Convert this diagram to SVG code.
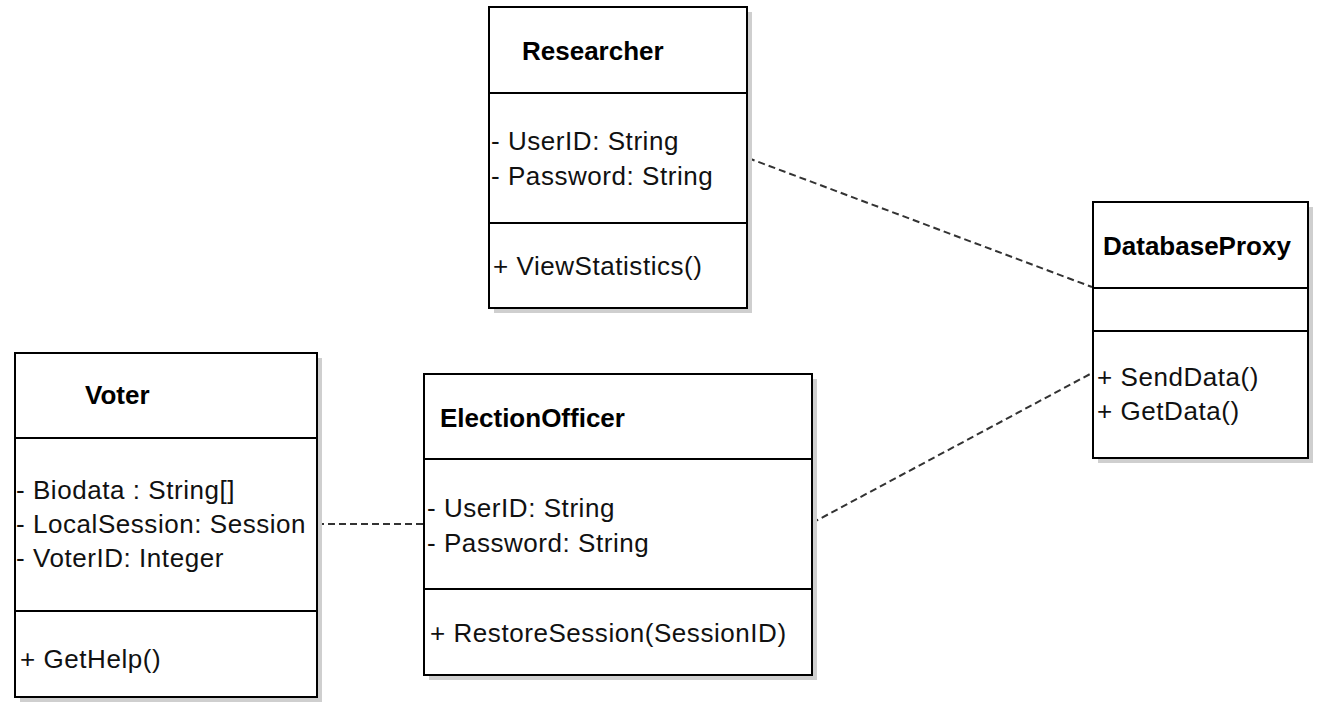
<svg xmlns="http://www.w3.org/2000/svg" width="1320" height="703" viewBox="0 0 1320 703">
<style>
.box{fill:#ffffff;stroke:#000000;stroke-width:2}
.shadow{fill:#cfcfcf;stroke:none}
.div{stroke:#000000;stroke-width:2;fill:none}
.title{font-family:"Liberation Sans",Arial,sans-serif;font-weight:bold;font-size:26px;fill:#000000}
.txt{font-family:"Liberation Sans",Arial,sans-serif;font-size:26px;letter-spacing:0.55px;fill:#111111}
.conn{stroke:#333333;stroke-width:2;stroke-dasharray:7 4;fill:none}
</style>
<rect width="1320" height="703" fill="#ffffff"/>
<g id="connectors">
<line class="conn" x1="748" y1="158" x2="1092" y2="287"/>
<line class="conn" x1="317" y1="524" x2="424" y2="524"/>
<line class="conn" x1="812" y1="523" x2="1092" y2="373"/>
</g>
<g id="researcher">
<rect class="shadow" x="494" y="12" width="258" height="301"/>
<rect class="box" x="489" y="7" width="258" height="301"/>
<line class="div" x1="489" y1="93" x2="747" y2="93"/>
<line class="div" x1="489" y1="223" x2="747" y2="223"/>
<text class="title" x="522" y="60">Researcher</text>
<text class="txt" x="491" y="150">- UserID: String</text>
<text class="txt" x="491" y="185">- Password: String</text>
<text class="txt" x="493" y="275">+ ViewStatistics()</text>
</g>
<g id="databaseproxy">
<rect class="shadow" x="1098" y="207" width="215" height="256"/>
<rect class="box" x="1093" y="202" width="215" height="256"/>
<line class="div" x1="1093" y1="288" x2="1308" y2="288"/>
<line class="div" x1="1093" y1="331" x2="1308" y2="331"/>
<text class="title" x="1103" y="255">DatabaseProxy</text>
<text class="txt" x="1097" y="386">+ SendData()</text>
<text class="txt" x="1097" y="420">+ GetData()</text>
</g>
<g id="voter">
<rect class="shadow" x="20" y="358" width="302" height="344"/>
<rect class="box" x="15" y="353" width="302" height="344"/>
<line class="div" x1="15" y1="438" x2="317" y2="438"/>
<line class="div" x1="15" y1="611" x2="317" y2="611"/>
<text class="title" x="85" y="404">Voter</text>
<text class="txt" x="16" y="499">- Biodata : String[]</text>
<text class="txt" x="16" y="533">- LocalSession: Session</text>
<text class="txt" x="16" y="567">- VoterID: Integer</text>
<text class="txt" x="20" y="668">+ GetHelp()</text>
</g>
<g id="electionofficer">
<rect class="shadow" x="429" y="379" width="388" height="301"/>
<rect class="box" x="424" y="374" width="388" height="301"/>
<line class="div" x1="424" y1="459" x2="812" y2="459"/>
<line class="div" x1="424" y1="589" x2="812" y2="589"/>
<text class="title" x="440" y="427">ElectionOfficer</text>
<text class="txt" x="427" y="517">- UserID: String</text>
<text class="txt" x="427" y="552">- Password: String</text>
<text class="txt" x="430" y="642">+ RestoreSession(SessionID)</text>
</g>
</svg>
